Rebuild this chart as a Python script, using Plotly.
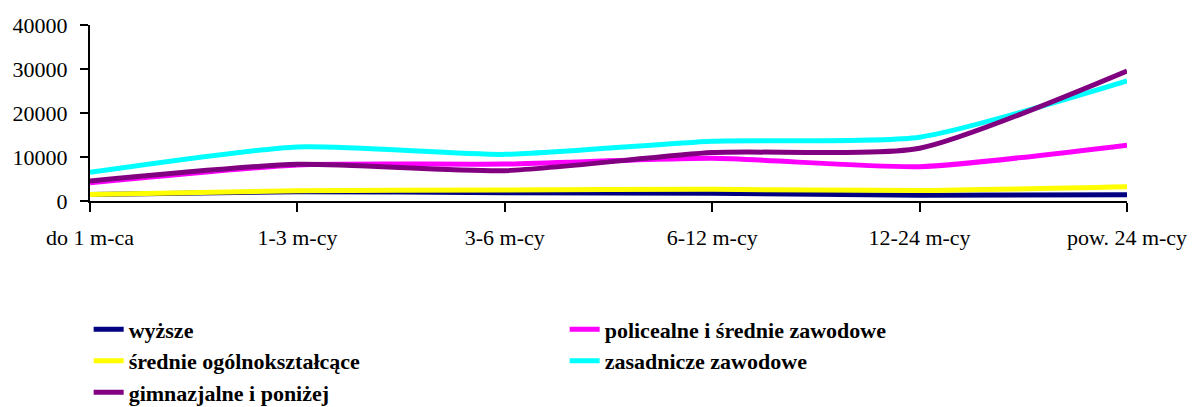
import plotly.graph_objects as go

# kategorie (czas pozostawania bez pracy)
kategorie = ['do 1 m-ca', '1-3 m-cy', '3-6 m-cy', '6-12 m-cy', '12-24 m-cy', 'pow. 24 m-cy']

# liczba osób wg wykształcenia
wyzsze = [1500, 2100, 1900, 1750, 1300, 1430]
policealne = [4150, 8200, 8400, 9700, 7800, 12700]
srednie_ogolne = [1500, 2350, 2500, 2650, 2400, 3250]
zasadnicze = [6500, 12300, 10600, 13600, 14500, 27300]
gimnazjalne = [4550, 8350, 6900, 11000, 12000, 29550]

serie = [
    ('wyższe', wyzsze, '#000080'),
    ('policealne i średnie zawodowe', policealne, '#ff00ff'),
    ('średnie ogólnokształcące', srednie_ogolne, '#ffff00'),
    ('zasadnicze zawodowe', zasadnicze, '#00ffff'),
    ('gimnazjalne i poniżej', gimnazjalne, '#800080'),
]

fig = go.Figure()
for nazwa, wartosci, kolor in serie:
    fig.add_trace(go.Scatter(
        x=list(range(len(kategorie))),
        y=wartosci,
        name=nazwa,
        mode='lines',
        line=dict(color=kolor, width=5, shape='spline', smoothing=0.6),
    ))

czcionka = 'Liberation Serif, Times New Roman, serif'

# strona ma domyślny margines 8 px, więc wykres jest o tyle mniejszy
fig.update_layout(
    width=1187, height=399,
    margin=dict(l=82, r=68, t=17, b=206, autoexpand=False),
    plot_bgcolor='white', paper_bgcolor='white',
    showlegend=True,
    font=dict(family=czcionka, size=22, color='black'),
    xaxis=dict(
        range=[0, len(kategorie) - 1],
        tickvals=list(range(len(kategorie))),
        ticktext=kategorie,
        showgrid=False, zeroline=False,
        showline=True, linecolor='black', linewidth=2,
        ticks='outside', ticklen=9, tickwidth=2, tickcolor='black',
        ticklabelstandoff=7,
        tickfont=dict(family=czcionka, size=22),
    ),
    yaxis=dict(
        range=[0, 40000], dtick=10000, tickformat='d',
        showgrid=False, zeroline=False,
        showline=True, linecolor='black', linewidth=2,
        ticks='outside', ticklen=8, tickwidth=2, tickcolor='black',
        ticklabelstandoff=8,
        tickfont=dict(family=czcionka, size=22),
    ),
    yaxis2=dict(
        range=[0, 40000], dtick=10000, overlaying='y', side='left', anchor='x',
        showgrid=False, zeroline=False, showline=False, showticklabels=False,
        ticks='inside', ticklen=9, tickwidth=2, tickcolor='black',
    ),
    legend=dict(
        orientation='h',
        x=-0.0013, xanchor='left',
        y=-0.61, yanchor='top',
        entrywidth=431, entrywidthmode='pixels',
        tracegroupgap=0,
        font=dict(family=czcionka, size=22, weight='bold', color='black'),
        bgcolor='rgba(0,0,0,0)',
    ),
)

fig.write_html('out.html')
